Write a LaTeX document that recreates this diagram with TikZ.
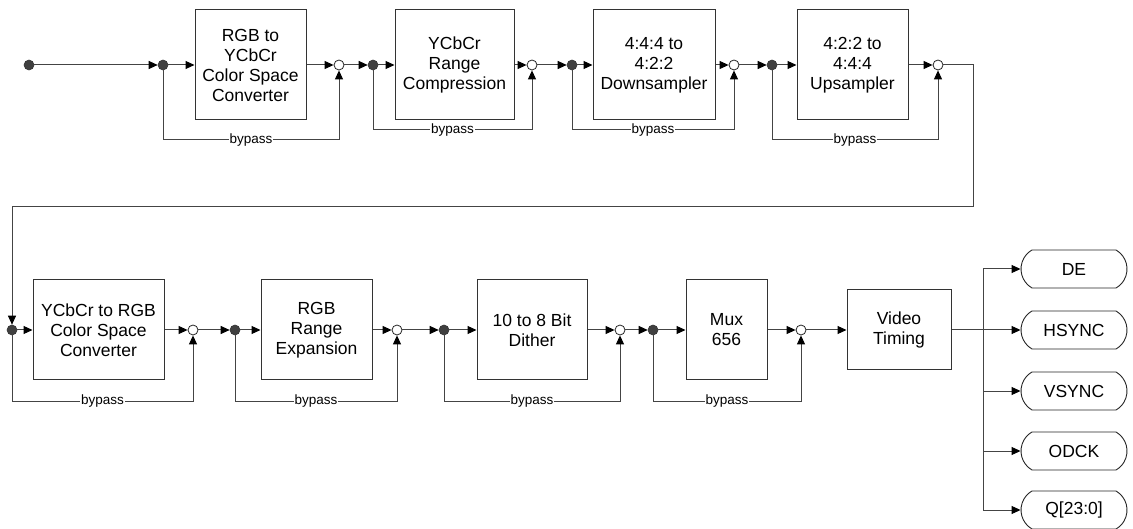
\documentclass[tikz,border=0pt]{standalone}
\usepackage{fontspec}
\setmainfont{Liberation Sans}
\usetikzlibrary{arrows.meta,shapes.misc}
\definecolor{linegray}{HTML}{444444}
\definecolor{dotgray}{HTML}{404040}

\begin{document}
\begin{tikzpicture}[x=1pt,y=-1pt,
  block/.style={draw=black!80,line width=1pt,align=center,inner sep=0pt,minimum height=110,font=\fontsize{17.5}{20}\selectfont},
  sdot/.style={circle,fill=dotgray,draw=black!80,line width=0.6pt,minimum size=10pt,inner sep=0pt},
  mdot/.style={circle,fill=white,draw=black!85,line width=0.8pt,minimum size=10pt,inner sep=0pt},
  term/.style={rounded rectangle,rounded rectangle arc length=120,draw=black!85,line width=0.9pt,minimum width=106,minimum height=38,inner sep=0pt,font=\fontsize{17.5}{20}\selectfont},
  wire/.style={draw=linegray,line width=1pt},
  arr/.style={wire,-{Triangle[length=9pt,width=8pt,fill=black,color=black]}},
  lbl/.style={fill=white,inner sep=1pt,font=\fontsize{13.5}{13.5}\selectfont}]
 \useasboundingbox (0,0) rectangle (1133,529);

 % 上段
 \node[sdot] (s0) at (29,65) {}; % 入力
 \node[sdot] (d1) at (163,65) {};
 \node[block,minimum width=111] (b1) at (250.5,65) {RGB to\\YCbCr\\Color Space\\Converter};
 \node[mdot] (w1) at (339,65) {};
 \node[sdot] (d2) at (373,65) {};
 \node[block,minimum width=119] (b2) at (454.5,65) {YCbCr\\Range\\Compression};
 \node[mdot] (w2) at (532,65) {};
 \node[sdot] (d3) at (572,65) {};
 \node[block,minimum width=122] (b3) at (654,65) {4:4:4 to\\4:2:2\\Downsampler};
 \node[mdot] (w3) at (734,65) {};
 \node[sdot] (d4) at (772,65) {};
 \node[block,minimum width=111] (b4) at (852.5,65) {4:2:2 to\\4:4:4\\Upsampler};
 \node[mdot] (w4) at (938,65) {};

 % 下段
 \node[sdot] (d5) at (12,330) {};
 \node[block,minimum width=131,minimum height=100] (b5) at (98.5,330) {YCbCr to RGB\\Color Space\\Converter};
 \node[mdot] (w5) at (193,330) {};
 \node[sdot] (d6) at (235,330) {};
 \node[block,minimum width=111,minimum height=100] (b6) at (316.5,330) {RGB\\Range\\Expansion};
 \node[mdot] (w6) at (397,330) {};
 \node[sdot] (d7) at (444,330) {};
 \node[block,minimum width=110,minimum height=100] (b7) at (532,330) {10 to 8 Bit\\Dither};
 \node[mdot] (w7) at (620,330) {};
 \node[sdot] (d8) at (653,330) {};
 \node[block,minimum width=81,minimum height=100] (b8) at (726.5,330) {Mux\\656};
 \node[mdot] (w8) at (801,330) {};
 \node[block,minimum width=104,minimum height=80] (vt) at (899,330) {Video\\Timing};

 % 出力
 \coordinate (tr) at (983,330); % 分岐点
 \node[term] (o1) at (1074,269) {DE};
 \node[term] (o2) at (1074,330) {HSYNC};
 \node[term] (o3) at (1074,391) {VSYNC};
 \node[term] (o4) at (1074,451) {ODCK};
 \node[term] (o5) at (1074,510) {Q[23:0]};

 % 信号線
 \draw[arr] (s0) -- (d1);
 \draw[arr] (d1) -- (b1);
 \draw[arr] (b1) -- (w1);
 \draw[arr] (w1) -- (d2);
 \draw[arr] (d2) -- (b2);
 \draw[arr] (b2) -- (w2);
 \draw[arr] (w2) -- (d3);
 \draw[arr] (d3) -- (b3);
 \draw[arr] (b3) -- (w3);
 \draw[arr] (w3) -- (d4);
 \draw[arr] (d4) -- (b4);
 \draw[arr] (b4) -- (w4);
 \draw[arr] (w4) -| ++(35,142) -| (d5); % 折り返し
 \draw[arr] (d5) -- (b5);
 \draw[arr] (b5) -- (w5);
 \draw[arr] (w5) -- (d6);
 \draw[arr] (d6) -- (b6);
 \draw[arr] (b6) -- (w6);
 \draw[arr] (w6) -- (d7);
 \draw[arr] (d7) -- (b7);
 \draw[arr] (b7) -- (w7);
 \draw[arr] (w7) -- (d8);
 \draw[arr] (d8) -- (b8);
 \draw[arr] (b8) -- (w8);
 \draw[arr] (w8) -- (vt);

 % バイパス
 \draw[arr] (d1) -- ++(0,75) -| node[pos=0.25,lbl] {bypass} (w1);
 \draw[arr] (d2) -- ++(0,65) -| node[pos=0.25,lbl] {bypass} (w2);
 \draw[arr] (d3) -- ++(0,65) -| node[pos=0.25,lbl] {bypass} (w3);
 \draw[arr] (d4) -- ++(0,75) -| node[pos=0.25,lbl] {bypass} (w4);
 \draw[arr] (d5) -- ++(0,71) -| node[pos=0.25,lbl] {bypass} (w5);
 \draw[arr] (d6) -- ++(0,71) -| node[pos=0.25,lbl] {bypass} (w6);
 \draw[arr] (d7) -- ++(0,71) -| node[pos=0.25,lbl] {bypass} (w7);
 \draw[arr] (d8) -- ++(0,71) -| node[pos=0.25,lbl] {bypass} (w8);

 % タイミング出力
 \draw[wire] (vt) -- (tr);
 \draw[wire] (tr |- o1) -- (tr |- o5);
 \foreach \n in {1,...,5}
  \draw[arr] (tr |- o\n) -- (o\n);
\end{tikzpicture}
\end{document}
